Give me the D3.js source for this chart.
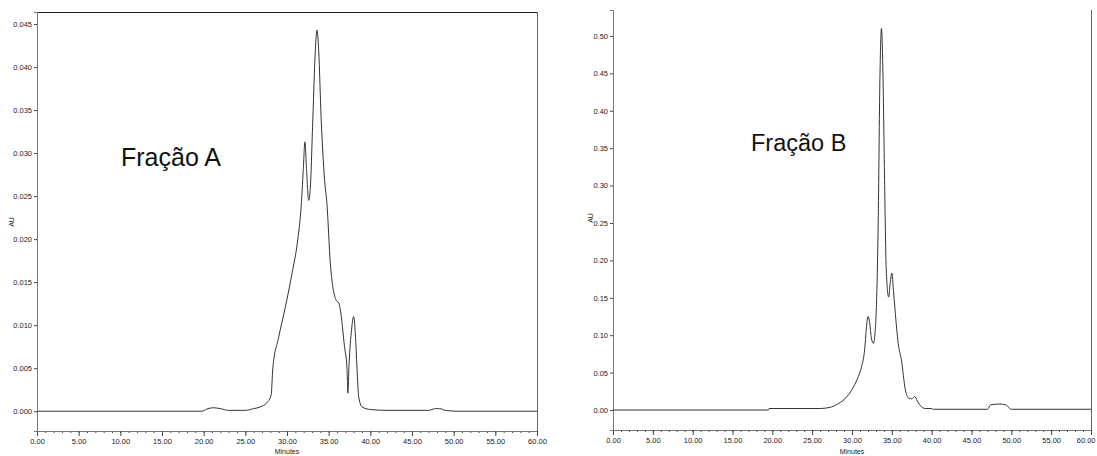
<!DOCTYPE html>
<html><head><meta charset="utf-8">
<script src="https://cdn.jsdelivr.net/npm/d3@7"></script>
<style>
body{margin:0;background:#fff;}
svg text{font-family:"Liberation Sans Narrow","Liberation Sans",Arial,sans-serif;}
</style></head>
<body><svg id="c" width="1097" height="456"></svg>
<script>
// ---- data ----
const leftTime = [0,19.8,20.5,21.2,22.0,23.0,25.0,26.0,26.8,27.6,28.1,28.3,29.0,29.8,30.6,31.3,31.7,31.95,32.15,32.35,32.6,32.8,33.1,33.4,33.6,33.8,34.1,34.5,34.8,35.2,35.9,36.2,36.4,36.9,37.2,37.3,37.45,37.75,38.0,38.2,38.4,38.6,39.0,40.0,42.0,47.0,47.8,48.3,49.0,50.5,60];
const leftAU   = [0,0,0.0003,0.0004,0.0003,0.0001,0.0001,0.0003,0.0005,0.0010,0.0019,0.0050,0.0086,0.0121,0.0160,0.0200,0.0238,0.0280,0.0313,0.0280,0.0245,0.0260,0.0340,0.0420,0.0443,0.0420,0.0340,0.0270,0.0240,0.0172,0.0129,0.0126,0.0118,0.0075,0.0050,0.0021,0.0055,0.0095,0.0110,0.0090,0.0050,0.0017,0.0005,0.0002,0.0001,0.0001,0.0003,0.0003,0.0001,0,0];
const rightTime = [0,19.5,19.6,26.0,27.4,28.2,28.9,29.6,30.2,30.8,31.2,31.6,31.85,32.0,32.2,32.45,32.7,32.9,33.1,33.3,33.5,33.7,33.9,34.1,34.3,34.6,34.8,35.0,35.2,35.4,35.8,36.2,36.7,37.1,37.5,37.9,38.2,38.5,39.2,40.0,40.2,47.0,47.4,48.5,49.3,49.8,50.0,60];
const rightAU   = [0,0,0.002,0.002,0.004,0.008,0.013,0.021,0.031,0.045,0.058,0.082,0.115,0.125,0.118,0.095,0.089,0.105,0.150,0.260,0.440,0.510,0.440,0.300,0.187,0.151,0.170,0.183,0.160,0.134,0.089,0.067,0.027,0.016,0.015,0.018,0.012,0.007,0.002,0.002,0.001,0.001,0.007,0.008,0.007,0.002,0.001,0.001];
const xTicks = [0,5,10,15,20,25,30,35,40,45,50,55,60];
const leftYTicks = [0,0.005,0.010,0.015,0.020,0.025,0.030,0.035,0.040,0.045];
const rightYTicks = [0,0.05,0.10,0.15,0.20,0.25,0.30,0.35,0.40,0.45,0.50];
const titles = ["Fração A","Fração B"];

const svg = d3.select("#c");

function panel(cfg){
  const g = svg.append("g");
  const x = d3.scaleLinear().domain([0,60]).range([cfg.x0,cfg.x1]);
  const y = d3.scaleLinear().domain(cfg.yDom).range([cfg.yBot,cfg.yTop]);
  if(cfg.top) g.append("line").attr("x1",cfg.x0).attr("x2",cfg.x1).attr("y1",cfg.yTop+0.5).attr("y2",cfg.yTop+0.5).attr("stroke","#222");
  g.append("line").attr("x1",cfg.x1+0.5).attr("x2",cfg.x1+0.5).attr("y1",cfg.yTop).attr("y2",cfg.yBot).attr("stroke","#666");
  const xa = g.append("g").attr("transform",`translate(0,${cfg.yBot})`);
  xa.call(d3.axisBottom(x).tickValues(d3.range(0,61,1)).tickSize(2).tickFormat(""));
  const xm = g.append("g").attr("transform",`translate(0,${cfg.yBot})`);
  xm.call(d3.axisBottom(x).tickValues(xTicks).tickSize(5).tickPadding(3).tickFormat(d3.format(".2f")));
  if(cfg.clampLast){
    xm.selectAll(".tick text").filter(d=>d===60).attr("text-anchor","end").attr("x",4);
  }
  const ya = g.append("g").attr("transform",`translate(${cfg.x0},0)`);
  ya.call(d3.axisLeft(y).tickValues(cfg.minor).tickSize(2).tickFormat(""));
  ya.call(d3.axisLeft(y).tickValues(cfg.yTicks).tickSize(3).tickPadding(2).tickFormat(d3.format(cfg.fmt)));
  g.selectAll(".domain").attr("stroke","#777");
  g.selectAll(".tick line").attr("stroke","#444");
  g.selectAll(".tick text").attr("font-size","7.5px").attr("fill","#222");
  const line = d3.line().x((d,i)=>x(cfg.t[i])).y(d=>y(d)).curve(d3.curveMonotoneX);
  g.append("path").datum(cfg.v).attr("d",line).attr("fill","none").attr("stroke","#333").attr("stroke-width",1);
  g.append("text").attr("x",(cfg.x0+cfg.x1)/2).attr("y",454).attr("text-anchor","middle").attr("font-size","7px").attr("fill","#222").text("Minutes");
  g.append("text").attr("transform",`translate(${cfg.auX},${cfg.auY}) rotate(-90)`).attr("text-anchor","middle").attr("font-size","7px").attr("fill","#222").text("AU");
  g.append("text").attr("x",cfg.tx).attr("y",cfg.ty).attr("font-size",cfg.tfs).attr("fill","#111")
   .style("font-family","'Liberation Sans',Arial,sans-serif").text(cfg.title);
}

panel({x0:37,x1:537,yTop:12,yBot:431,yDom:[-0.0023,0.0464],t:leftTime,v:leftAU,yTicks:leftYTicks,
  minor:d3.range(-2,47).map(i=>i*0.001),fmt:".3f",top:true,auX:14,auY:222,tx:121,ty:166,tfs:"25px",title:titles[0]});
panel({x0:613,x1:1091,yTop:10,yBot:430,yDom:[-0.0267,0.5347],t:rightTime,v:rightAU,yTicks:rightYTicks,
  minor:d3.range(-2,54).map(i=>i*0.01),fmt:".2f",top:false,clampLast:true,auX:593,auY:218,tx:751,ty:151,tfs:"23.5px",title:titles[1]});
</script></body></html>
